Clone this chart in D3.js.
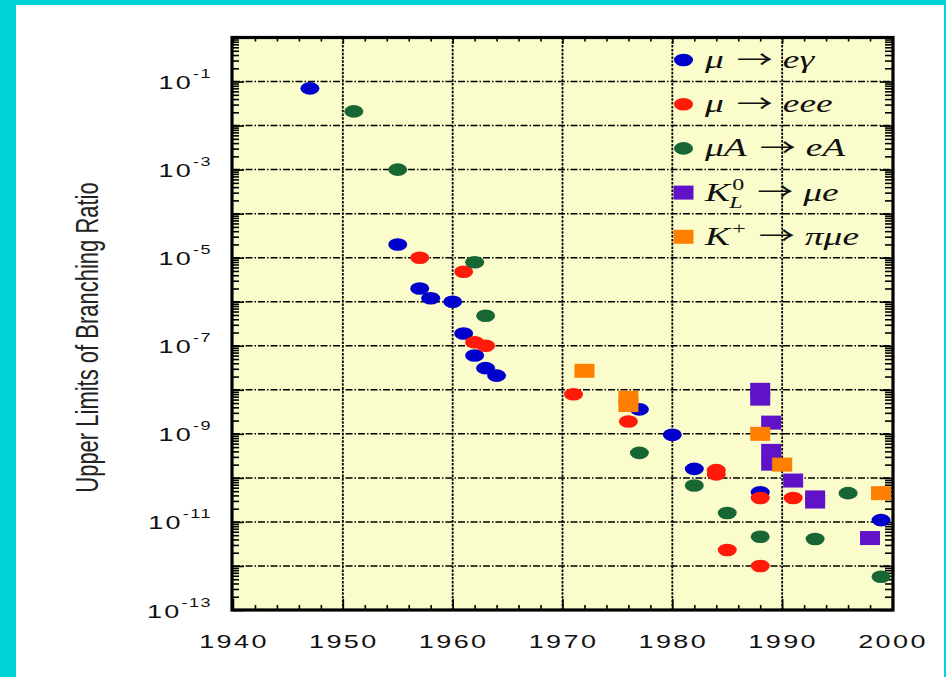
<!DOCTYPE html>
<html>
<head>
<meta charset="utf-8">
<script src="https://cdn.jsdelivr.net/npm/d3@7"></script>
<style>
  html, body { margin: 0; padding: 0; background: #00d3d8; }
  svg { display: block; }
</style>
</head>
<body>
<svg id="chart" width="946" height="677"></svg>
<script>
// Upper limits on lepton-flavour-violating decays, by year of publication.
const muEGammaYears  = [1947, 1955, 1957, 1958, 1960, 1961, 1962, 1963, 1964, 1977, 1980, 1982, 1988, 1999];
const muEGammaLimits = [7e-2, 2e-5, 2e-6, 1.2e-6, 1e-6, 1.9e-7, 6e-8, 3.1e-8, 2.1e-8, 3.6e-9, 9.5e-10, 1.6e-10, 4.7e-11, 1.1e-11];

const muEeeYears  = [1957, 1961, 1962, 1963, 1971, 1976, 1984, 1984, 1985, 1988, 1988, 1991];
const muEeeLimits = [1e-5, 4.8e-6, 1.2e-7, 1e-7, 7.9e-9, 1.9e-9, 1.5e-10, 1.2e-10, 2.3e-12, 3.5e-11, 1e-12, 3.5e-11];

const muConvYears  = [1951, 1955, 1962, 1963, 1977, 1982, 1985, 1988, 1993, 1996, 1999];
const muConvLimits = [2.1e-2, 1e-3, 7.9e-6, 4.8e-7, 3.7e-10, 6.7e-11, 1.6e-11, 4.6e-12, 4.1e-12, 4.5e-11, 5.7e-13];

const kLongYears  = [1988, 1988, 1989, 1989, 1989, 1991, 1993, 1993, 1998];
const kLongLimits = [1e-8, 6.3e-9, 1.8e-9, 4.1e-10, 2.1e-10, 8.7e-11, 3.6e-11, 2.9e-11, 4.3e-12];

const kPlusYears  = [1972, 1976, 1976, 1988, 1990, 1999];
const kPlusLimits = [2.7e-8, 6.6e-9, 4.5e-9, 1e-9, 2e-10, 4.5e-11];

const xTickYears   = [1940, 1950, 1960, 1970, 1980, 1990, 2000];
const yLabelExps   = [-1, -3, -5, -7, -9, -11, -13];
const yAxisTitle   = "Upper Limits of Branching Ratio";

const legendLabels = [
  { lhs: "μ",  sup: "",  sub: "",  rhs: "eγ"  },
  { lhs: "μ",  sup: "",  sub: "",  rhs: "eee" },
  { lhs: "μA", sup: "",  sub: "",  rhs: "eA"  },
  { lhs: "K",  sup: "0", sub: "L", rhs: "μe"  },
  { lhs: "K",  sup: "+", sub: "",  rhs: "πμe" }
];

// ---- series definitions (marker shape + colour) ----
const series = [
  { years: muEGammaYears, limits: muEGammaLimits, shape: "circle", color: "#0000cc" },
  { years: muEeeYears,    limits: muEeeLimits,    shape: "circle", color: "#ff1a0a" },
  { years: muConvYears,   limits: muConvLimits,   shape: "circle", color: "#176633" },
  { years: kLongYears,    limits: kLongLimits,    shape: "square", color: "#5f12c8" },
  { years: kPlusYears,    limits: kPlusLimits,    shape: "square", color: "#ff7f00" }
];

const SX = 1.5;                // horizontal stretch of lettering
const sans  = "'Liberation Sans', Arial, Helvetica, sans-serif";
const serif = "'Liberation Serif', 'Times New Roman', Times, serif";

const svg = d3.select("#chart");

// page backdrop
svg.append("rect").attr("x", 16).attr("y", 5).attr("width", 928).attr("height", 672).attr("fill", "#ffffff");

const x = d3.scaleLinear().domain([1940, 2000]).range([233, 892]);
const y = d3.scaleLog().domain([1, 1e-13]).range([37.5, 610]);

const [x0, x1] = x.range();
const [y0, y1] = y.range();

// plot background
svg.append("rect")
  .attr("x", x0).attr("y", y0)
  .attr("width", x1 - x0).attr("height", y1 - y0)
  .attr("fill", "#fafccb");

// grid
const decades = d3.range(-1, -13, -1).map(e => Math.pow(10, e));
const gridYears = d3.range(1950, 2000, 10);

const grid = svg.append("g").attr("fill", "none");
grid.selectAll("line.h").data(decades).join("line")
  .attr("class", "h")
  .attr("x1", x0).attr("x2", x1)
  .attr("y1", d => y(d)).attr("y2", d => y(d))
  .attr("stroke", "#000").attr("stroke-width", 1.5)
  .attr("stroke-dasharray", "7 2 1.5 2");
grid.selectAll("line.v").data(gridYears).join("line")
  .attr("class", "v")
  .attr("x1", d => x(d)).attr("x2", d => x(d))
  .attr("y1", y0).attr("y2", y1)
  .attr("stroke", "#000").attr("stroke-width", 1.8)
  .attr("stroke-dasharray", "2.5 1.3");

// ---- axes (ticks only; labels drawn separately) ----
const majorLogTicks = d3.range(0, -14, -1).map(e => Math.pow(10, e));
const minorLogTicks = [];
d3.range(-1, -14, -1).forEach(e => {
  for (let m = 2; m <= 9; m++) minorLogTicks.push(m * Math.pow(10, e));
});
const majorYearTicks = d3.range(1940, 2001, 10);
const minorYearTicks = d3.range(1942, 2000, 2).filter(v => v % 10 !== 0);

function tickStyle(g) {
  g.select(".domain").remove();
  g.selectAll("line").attr("stroke", "#000").attr("stroke-width", 1.6);
  g.selectAll("text").remove();
}

svg.append("g").attr("transform", `translate(${x0},0)`)
  .call(d3.axisLeft(y).tickValues(minorLogTicks).tickSize(-6).tickFormat(""))
  .call(tickStyle);
svg.append("g").attr("transform", `translate(${x0},0)`)
  .call(d3.axisLeft(y).tickValues(majorLogTicks).tickSize(-11).tickFormat(""))
  .call(tickStyle);
svg.append("g").attr("transform", `translate(${x1},0)`)
  .call(d3.axisRight(y).tickValues(minorLogTicks).tickSize(-7).tickFormat(""))
  .call(tickStyle);
svg.append("g").attr("transform", `translate(${x1},0)`)
  .call(d3.axisRight(y).tickValues(majorLogTicks).tickSize(-12).tickFormat(""))
  .call(tickStyle);

svg.append("g").attr("transform", `translate(0,${y1})`)
  .call(d3.axisBottom(x).tickValues(minorYearTicks).tickSize(-5).tickFormat(""))
  .call(tickStyle);
svg.append("g").attr("transform", `translate(0,${y1})`)
  .call(d3.axisBottom(x).tickValues(majorYearTicks).tickSize(-11).tickFormat(""))
  .call(tickStyle);
svg.append("g").attr("transform", `translate(0,${y0})`)
  .call(d3.axisTop(x).tickValues(minorYearTicks).tickSize(-4).tickFormat(""))
  .call(tickStyle);
svg.append("g").attr("transform", `translate(0,${y0})`)
  .call(d3.axisTop(x).tickValues(majorYearTicks).tickSize(-6).tickFormat(""))
  .call(tickStyle);

// frame
svg.append("rect")
  .attr("x", x0 - 1).attr("y", y0)
  .attr("width", x1 - x0 + 2).attr("height", y1 - y0)
  .attr("fill", "none").attr("stroke", "#000").attr("stroke-width", 3.2);

// ---- tick labels ----
const yLab = svg.append("g").attr("font-family", sans).attr("fill", "#111");
yLabelExps.forEach(e => {
  const t = yLab.append("g")
    .attr("transform", `translate(212,${y(Math.pow(10, e)) + 7.5}) scale(${SX},1)`)
    .append("text").attr("text-anchor", "end");
  t.append("tspan").attr("font-size", 18).attr("letter-spacing", 1.5).text("10");
  t.append("tspan").attr("font-size", 12).attr("letter-spacing", 1).attr("dy", -11).text(String(e));
});

const xLab = svg.append("g").attr("font-family", sans).attr("fill", "#111");
xTickYears.forEach(v => {
  xLab.append("g")
    .attr("transform", `translate(${x(v) + 1},648) scale(${SX},1)`)
    .append("text")
    .attr("text-anchor", "middle")
    .attr("font-size", 18)
    .attr("letter-spacing", 1.6)
    .text(v);
});

// y axis title
svg.append("g")
  .attr("transform", `translate(98,337.5) scale(1.4,1) rotate(-90)`)
  .append("text")
  .attr("text-anchor", "middle")
  .attr("font-family", sans)
  .attr("font-size", 22)
  .attr("fill", "#222")
  .text(yAxisTitle);

// ---- markers ----
const RX = 9.5, RY = 6.3, SW = 20, SH = 14;

function drawMarker(sel, shape, color) {
  if (shape === "circle") {
    sel.append("ellipse").attr("rx", RX).attr("ry", RY).attr("fill", color);
  } else {
    sel.append("rect").attr("x", -SW / 2).attr("y", -SH / 2)
      .attr("width", SW).attr("height", SH).attr("fill", color);
  }
}

const marks = svg.append("g");
series.forEach(s => {
  const pts = s.years.map((yr, i) => ({ year: yr, limit: s.limits[i] }));
  marks.append("g").selectAll("g").data(pts).join("g")
    .attr("transform", d => `translate(${x(d.year)},${y(d.limit)})`)
    .each(function () { drawMarker(d3.select(this), s.shape, s.color); });
});

// ---- legend ----
const legend = svg.append("g");
const legX = 683.5, legTextX = 705, legTop = 60, legStep = 44.2;

legendLabels.forEach((lab, i) => {
  const cy = legTop + i * legStep;
  const s = series[i];
  drawMarker(legend.append("g").attr("transform", `translate(${legX},${cy})`), s.shape, s.color);

  const g = legend.append("g")
    .attr("transform", `translate(${legTextX},${cy + 8}) scale(${SX},1)`)
    .attr("font-family", serif).attr("fill", "#111");

  const lhs = g.append("text").attr("font-size", 25).attr("font-style", "italic").text(lab.lhs);
  let cursor = lhs.node().getComputedTextLength();
  let extra = 0;
  if (lab.sup) {
    const sp = g.append("text").attr("x", cursor + 1.5).attr("y", -11)
      .attr("font-size", 16).text(lab.sup);
    extra = Math.max(extra, sp.node().getComputedTextLength() + 1.5);
  }
  if (lab.sub) {
    const sb = g.append("text").attr("x", cursor - 0.5).attr("y", 7)
      .attr("font-size", 16).attr("font-style", "italic").text(lab.sub);
    extra = Math.max(extra, sb.node().getComputedTextLength() - 0.5);
  }
  cursor += extra + 13 / SX;
  const arrow = g.append("text").attr("x", cursor).attr("y", -0.5)
    .attr("font-family", "'Noto Sans CJK JP', 'Noto Sans CJK SC', serif")
    .attr("font-size", 24).text("→");
  cursor += arrow.node().getComputedTextLength() + 10 / SX;
  g.append("text").attr("x", cursor).attr("font-size", 25)
    .attr("font-style", "italic").text(lab.rhs);
});
</script>
</body>
</html>
